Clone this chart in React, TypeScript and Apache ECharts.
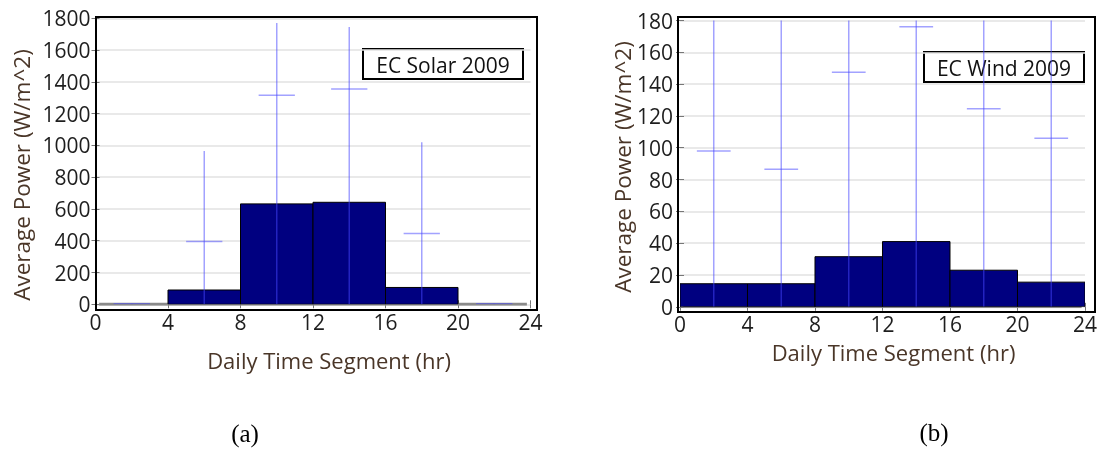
import React, { useEffect, useRef } from "react";
import * as echarts from "echarts";

// ---- data ----
const binStart = [0, 4, 8, 12, 16, 20];
const binEnd = [4, 8, 12, 16, 20, 24];
const segCenter = [2, 6, 10, 14, 18, 22];

const solarAvg = [0, 90, 632, 642, 106, 0];
const solarErrLow = [0, 0, 0, 0, 0, 0];
const solarErrHigh = [3, 965, 1770, 1745, 1020, 3];
const solarMarker = [3, 395, 1315, 1355, 445, 3];

const windAvg = [14.5, 14.5, 31.5, 41, 23, 15.5];
const windErrLow = [0, 0, 0, 0, 0, 0];
const windErrHigh = [250, 240, 300, 330, 280, 270];
const windMarker = [98, 86.5, 147.5, 176, 124.5, 106];

const baselineSpan = [0.2, 23.8];

const xTitle = "Daily Time Segment (hr)";
const yTitle = "Average Power (W/m^2)";
const solarLabel = "EC Solar 2009";
const windLabel = "EC Wind 2009";

const FONT = "Open Sans";
const TICK_COLOR = "#1e1e1e";
const TITLE_COLOR = "#4a3628";
const ERR_COLOR = "rgba(70,70,255,0.5)";

function barSeries(gi: number, vals: number[]) {
  return {
    type: "custom",
    xAxisIndex: gi * 2,
    yAxisIndex: gi * 2,
    z: 3,
    clip: true,
    data: vals.map((v, i) => [binStart[i], binEnd[i], v]),
    renderItem: (params: any, api: any) => {
      const v = api.value(2);
      if (!v) return null;
      const p0 = api.coord([api.value(0), v]);
      const p1 = api.coord([api.value(1), 0]);
      return {
        type: "rect",
        shape: { x: p0[0], y: p0[1], width: p1[0] - p0[0], height: p1[1] - p0[1] },
        style: { fill: "#000080", stroke: "#000", lineWidth: 1 },
      };
    },
  };
}

function errSeries(gi: number, low: number[], high: number[], mark: number[]) {
  return {
    type: "custom",
    xAxisIndex: gi * 2,
    yAxisIndex: gi * 2,
    z: 4,
    clip: true,
    data: segCenter.map((c, i) => [c, low[i], high[i], mark[i]]),
    renderItem: (params: any, api: any) => {
      const c = api.value(0);
      const lo = api.coord([c, api.value(1)]);
      const hi = api.coord([c, api.value(2)]);
      const mL = api.coord([c - 1, api.value(3)]);
      const mR = api.coord([c + 1, api.value(3)]);
      return {
        type: "group",
        children: [
          {
            type: "line",
            shape: { x1: lo[0], y1: lo[1], x2: hi[0], y2: hi[1] },
            style: { stroke: ERR_COLOR, lineWidth: 1.5 },
          },
          {
            type: "line",
            shape: { x1: mL[0], y1: mL[1], x2: mR[0], y2: mR[1] },
            style: { stroke: ERR_COLOR, lineWidth: 1.5 },
          },
        ],
      };
    },
  };
}

function baseSeries(gi: number) {
  return {
    type: "line",
    xAxisIndex: gi * 2,
    yAxisIndex: gi * 2,
    z: 2,
    symbol: "none",
    silent: true,
    data: [
      [baselineSpan[0], 0],
      [baselineSpan[1], 0],
    ],
    lineStyle: { color: "#8a8a8a", width: 3 },
  };
}

function axesFor(gi: number, yMax: number, yInt: number, off: { t: number; b: number; l: number; r: number }) {
  const tick = { inside: true, length: 4, lineStyle: { color: "#777", width: 1 } };
  const fmt = (v: number) => String(v);
  const xs = [
    {
      gridIndex: gi,
      type: "value",
      min: 0,
      max: 24,
      interval: 4,
      position: "bottom",
      offset: off.b,
      axisLine: { show: false },
      axisTick: tick,
      splitLine: { show: false },
      axisLabel: { fontFamily: FONT, fontSize: 21, color: TICK_COLOR, margin: 1, formatter: fmt },
    },
    {
      gridIndex: gi,
      type: "value",
      min: 0,
      max: 24,
      interval: 4,
      position: "top",
      offset: off.t,
      axisLine: { show: false },
      axisTick: tick,
      splitLine: { show: false },
      axisLabel: { show: false },
    },
  ];
  const ys = [
    {
      gridIndex: gi,
      type: "value",
      min: 0,
      max: yMax,
      interval: yInt,
      position: "left",
      offset: off.l,
      axisLine: { show: false },
      axisTick: tick,
      splitLine: { show: true, lineStyle: { color: "#e2e2e2", width: 1.5 } },
      axisLabel: { fontFamily: FONT, fontSize: 21, color: TICK_COLOR, margin: 5, formatter: fmt },
    },
    {
      gridIndex: gi,
      type: "value",
      min: 0,
      max: yMax,
      interval: yInt,
      position: "right",
      offset: off.r,
      axisLine: { show: false },
      axisTick: tick,
      splitLine: { show: false },
      axisLabel: { show: false },
    },
  ];
  return { xs, ys };
}

function legendBox(x: number, y: number, w: number, h: number, text: string) {
  return {
    type: "group",
    z: 20,
    children: [
      { type: "rect", shape: { x, y, width: w, height: h }, style: { fill: "#fff", stroke: "#000", lineWidth: 2 } },
      {
        type: "text",
        x: x + w / 2,
        y: y + h / 2 + 1,
        style: { text, fontFamily: FONT, fontSize: 21, fill: "#111", align: "center", verticalAlign: "middle" },
      },
    ],
  };
}

function titleText(x: number, y: number, text: string, rot: number, size: number, family = FONT, color = TITLE_COLOR) {
  return {
    type: "text",
    x,
    y,
    rotation: rot,
    z: 20,
    style: { text, fontFamily: family, fontSize: size, fill: color, align: "center", verticalAlign: "middle" },
  };
}

export default function App() {
  const ref = useRef<HTMLDivElement>(null);
  useEffect(() => {
    if (!ref.current) return;
    const chart = echarts.init(ref.current, undefined, { renderer: "svg" });
    const a = axesFor(0, 1800, 200, { t: 1.3, b: 5.7, l: 0, r: 6 });
    const b = axesFor(1, 180, 20, { t: 3.5, b: 5.2, l: 2, r: 4 });
    chart.setOption({
      animation: false,
      grid: [
        { left: 95.5, top: 18.3, width: 435, height: 286 },
        { left: 680, top: 20.5, width: 411, height: 286.3 },
      ],
      xAxis: [...a.xs, ...b.xs],
      yAxis: [...a.ys, ...b.ys],
      series: [
        baseSeries(0),
        barSeries(0, solarAvg),
        errSeries(0, solarErrLow, solarErrHigh, solarMarker),
        baseSeries(1),
        barSeries(1, windAvg),
        errSeries(1, windErrLow, windErrHigh, windMarker),
      ],
      graphic: [
        { type: "rect", z: 19, shape: { x: 96, y: 17, width: 441, height: 293 }, style: { fill: "none", stroke: "#000", lineWidth: 2 } },
        { type: "rect", z: 19, shape: { x: 678, y: 17, width: 417, height: 295 }, style: { fill: "none", stroke: "#000", lineWidth: 2 } },
        legendBox(363, 49, 160, 30, solarLabel),
        legendBox(924, 52, 160, 30, windLabel),
        titleText(21, 175, yTitle, Math.PI / 2, 22.5),
        titleText(622, 167, yTitle, Math.PI / 2, 22.5),
        titleText(329, 360, xTitle, 0, 22),
        titleText(893.5, 352, xTitle, 0, 22),
        titleText(245, 433, "(a)", 0, 25, "Liberation Serif", "#000"),
        titleText(934, 432, "(b)", 0, 25, "Liberation Serif", "#000"),
      ],
    });
    return () => chart.dispose();
  }, []);
  return <div ref={ref} style={{ position: "fixed", left: 0, top: 0, width: 1100, height: 449 }} />;
}
